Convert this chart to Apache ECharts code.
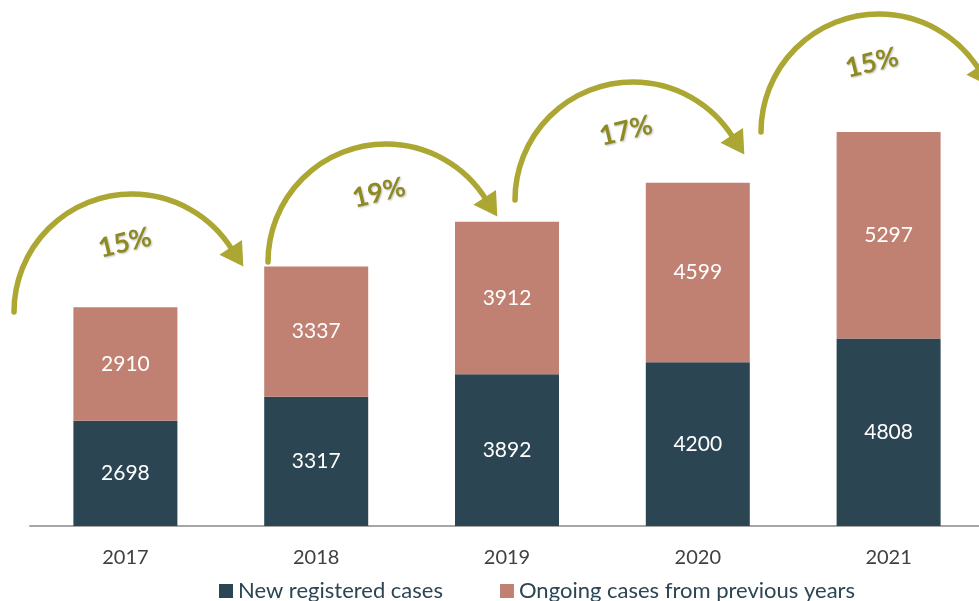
<!DOCTYPE html>
<html>
<head>
<meta charset="utf-8">
<script src="https://cdn.jsdelivr.net/npm/echarts@6/dist/echarts.min.js"></script>
<style>
html,body{margin:0;padding:0;background:#fff;}
#main{width:979px;height:601px;}
</style>
</head>
<body>
<div id="main"></div>
<script>
var years = ['2017', '2018', '2019', '2020', '2021'];
var newCases = [2698, 3317, 3892, 4200, 4808];
var ongoingCases = [2910, 3337, 3912, 4599, 5297];
var growthLabels = ['15%', '19%', '17%', '15%'];

// where the curved arrows sit (pixels), they are not tied to the bars
var arrowStarts = [[14, 312], [268, 262], [515, 200], [761, 132]];

var olive = '#aca632';
var font = 'Lato, "Open Sans", sans-serif';

function arrowGraphic(sx, sy, label) {
    var rx = 118, ry = 118;
    var cx = sx + rx, cy = sy;
    var endA = 0.58; // angle above horizontal where the line stops
    var ex = cx + rx * Math.cos(endA);
    var ey = cy - ry * Math.sin(endA);
    // tangent direction going clockwise
    var dx = rx * Math.sin(endA), dy = ry * Math.cos(endA);
    var len = Math.sqrt(dx * dx + dy * dy);
    dx /= len; dy /= len;
    var px = -dy, py = dx;
    var tip = [ex + dx * 23, ey + dy * 23];
    var b1 = [ex + px * 13.5, ey + py * 13.5];
    var b2 = [ex - px * 13.5, ey - py * 13.5];
    return [
        {
            type: 'arc',
            shape: {cx: cx, cy: cy, r: rx, startAngle: Math.PI, endAngle: 2 * Math.PI - endA + 0.03, clockwise: true},
            style: {fill: null, stroke: olive, lineWidth: 5.5, lineCap: 'round'}
        },
        {
            type: 'polygon',
            shape: {points: [tip, b1, b2]},
            style: {fill: olive}
        },
        {
            type: 'text',
            x: sx + 111, y: sy - 69,
            rotation: 0.24,
            style: {
                text: label, fill: '#8e8a22', font: 'bold 27px ' + font,
                align: 'center', verticalAlign: 'middle',
                textShadowColor: 'rgba(0,0,0,0.25)', textShadowBlur: 2, textShadowOffsetX: 1, textShadowOffsetY: 1
            }
        }
    ];
}

var graphics = [];
for (var i = 0; i < arrowStarts.length; i++) {
    graphics = graphics.concat(arrowGraphic(arrowStarts[i][0], arrowStarts[i][1], growthLabels[i]));
}

var chart = echarts.init(document.getElementById('main'));
var option = {
    animation: false,
    grid: {left: 30, width: 954, top: 58, bottom: 75, outerBoundsMode: 'none', containLabel: false},
    legend: {
        left: 214, top: 575,
        itemWidth: 14, itemHeight: 14, itemGap: 57,
        icon: 'rect',
        textStyle: {fontFamily: font, fontSize: 22, color: '#2b4553'},
        data: ['New registered cases', 'Ongoing cases from previous years']
    },
    xAxis: {
        type: 'category',
        data: years,
        axisLine: {lineStyle: {color: '#a6a6a6', width: 2}},
        axisTick: {show: false},
        axisLabel: {fontFamily: font, fontSize: 20, color: '#404040', margin: 22}
    },
    yAxis: {
        type: 'value', min: 0, max: 12000, show: false,
        splitLine: {show: false}
    },
    series: [
        {
            name: 'New registered cases', type: 'bar', stack: 'a',
            barWidth: 104,
            data: newCases,
            itemStyle: {color: '#2b4553'},
            label: {show: true, position: 'inside', color: '#fff', fontFamily: font, fontSize: 21}
        },
        {
            name: 'Ongoing cases from previous years', type: 'bar', stack: 'a',
            barWidth: 104,
            data: ongoingCases,
            itemStyle: {color: '#c08072'},
            label: {show: true, position: 'inside', color: '#fff', fontFamily: font, fontSize: 21}
        }
    ],
    graphic: graphics
};
chart.setOption(option);
</script>
</body>
</html>
